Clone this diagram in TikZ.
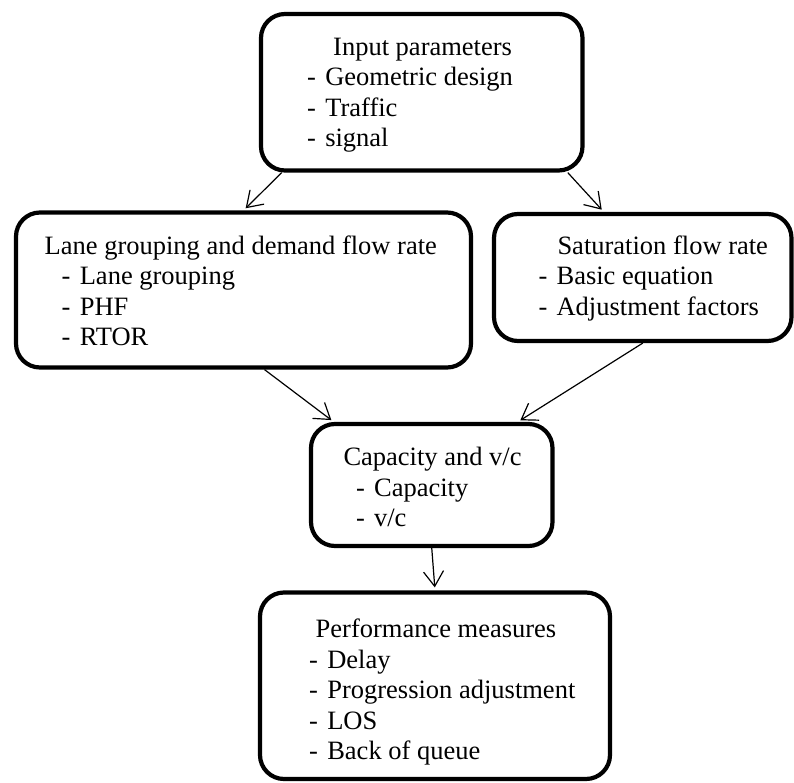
\documentclass[tikz,border=0pt]{standalone}
\usepackage{fontspec}
\setmainfont{Liberation Serif}
\usetikzlibrary{arrows.meta,positioning}
\newcommand{\itm}{-\hspace{0.35em}}

\begin{document}
\begin{tikzpicture}[
  x=1pt,y=-1pt,
  box/.style={rectangle,rounded corners=24pt,draw,line width=4.2pt,inner sep=0pt},
  txt/.style={align=left,inner sep=0pt,anchor=north west,
    font=\fontsize{26.5}{30.6}\selectfont},
  arrow/.style={-{Straight Barb[length=15pt,width=20pt]},line width=1.2pt,shorten >=3pt}
]
\useasboundingbox (0,0) rectangle (794,783);

\node[box,minimum width=321.5pt,minimum height=156.5pt] (inp)  at (421.75,92.25) {};
\node[box,minimum width=455pt,minimum height=155pt]     (lane) at (243.5,290) {};
\node[box,minimum width=297.5pt,minimum height=127pt]   (sat)  at (642.75,277.5) {};
\node[box,minimum width=241.5pt,minimum height=122pt]   (cap)  at (431.75,485) {};
\node[box,minimum width=350pt,minimum height=186.5pt]   (perf) at (435,685.75) {};

\node[txt] (inp-t)  at (307,37.5)    {\hspace*{26pt}Input parameters\\\itm Geometric design\\\itm Traffic\\\itm signal};
\node[txt] (lane-t) at (44.5,235.2)  {Lane grouping and demand flow rate\\\hspace*{17pt}\itm Lane grouping\\\hspace*{17pt}\itm PHF\\\hspace*{17pt}\itm RTOR};
\node[txt] (sat-t)  at (538.3,235.2) {\hspace*{19pt}Saturation flow rate\\\itm Basic equation\\\itm Adjustment factors};
\node[txt] (cap-t)  at (343.3,446.9) {Capacity and v/c\\\hspace*{12.5pt}\itm Capacity\\\hspace*{12.5pt}\itm v/c};
\node[txt] (perf-t) at (309,618.6)   {\hspace*{6.5pt}Performance measures\\\itm Delay\\\itm Progression adjustment\\\itm LOS\\\itm Back of queue};

\draw[arrow] ([xshift=-140pt]inp.south) -- (lane.north);
\draw[arrow] ([xshift=146pt]inp.south) -- ([xshift=-39pt]sat.north);
\draw[arrow] ([xshift=21pt]lane.south) -- ([xshift=-98pt]cap.north);
\draw[arrow] (sat.south) -- ([xshift=86pt]cap.north);
\draw[arrow] (cap.south) -- (perf.north);
\end{tikzpicture}
\end{document}
